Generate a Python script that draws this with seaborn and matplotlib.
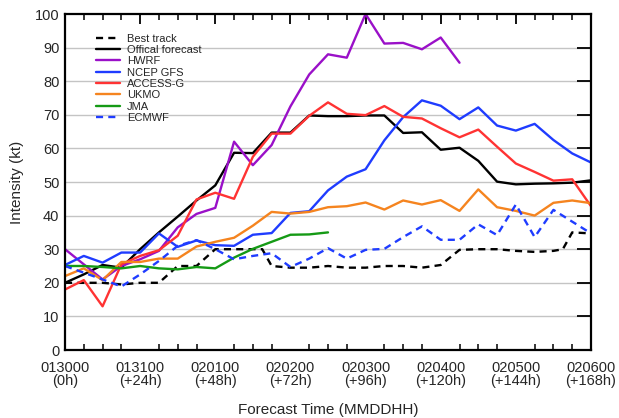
import matplotlib
matplotlib.use("Agg")
import matplotlib.pyplot as plt
from matplotlib.ticker import MultipleLocator
import seaborn as sns
import pandas as pd

# Forecast lead times (hours) for the model runs, every 6 h
hours = list(range(0, 169, 6))

# Best track is sampled on its own times
best_hours = [0, 6, 12, 18, 24, 30, 36, 42, 48, 54, 60, 63, 66, 72, 78, 84, 90,
              96, 102, 108, 114, 120, 126, 132, 138, 144, 150, 156, 159, 162, 168]
best_track = [20, 20, 20, 19.5, 20, 20, 25, 25, 30, 30, 30, 30, 25, 24.5, 24.5,
              25, 24.5, 24.5, 25, 25, 24.5, 25.3, 29.8, 30, 30, 29.5, 29.2, 29.5,
              30, 35, 34.7]

official = [20, 22.5, 25.3, 24.5, 30, 35, 39.7, 44.5, 49, 58.7, 58.6, 64.7, 64.7,
            69.8, 69.6, 69.6, 69.8, 69.8, 64.6, 64.8, 59.6, 60.2, 56.3, 50.1,
            49.3, 49.5, 49.6, 49.8, 50.5]

hwrf = [30, 25.5, 21, 25, 27, 29.5, 36.5, 40.5, 42.3, 62, 55, 61, 72.5, 82, 88,
        87, 100, 91.2, 91.4, 89.5, 93, 85.5]

ncep_gfs = [25.3, 28, 26, 29, 29, 34.7, 30.7, 32.6, 31.2, 31, 34.3, 34.8, 40.8,
            41.3, 47.5, 51.6, 53.8, 62.4, 69.3, 74.3, 72.7, 68.7, 72.2, 66.8,
            65.3, 67.3, 62.5, 58.5, 55.8]

access_g = [18, 20.8, 13, 25.5, 28, 29.7, 34, 44.8, 46.8, 45, 57.5, 64.4, 64.4,
            69.7, 73.7, 70.3, 69.9, 72.6, 69.4, 68.9, 66, 63.3, 65.6, 60.5, 55.5,
            53, 50.4, 50.8, 42.8]

ukmo = [22, 24.3, 20.8, 26.2, 26.2, 27.2, 27.2, 30.8, 32.2, 33.4, 37, 41.1, 40.6,
        41.1, 42.5, 42.8, 43.9, 41.8, 44.5, 43.3, 44.6, 41.4, 47.8, 42.5, 41.4,
        40, 43.8, 44.5, 43.7]

jma = [25, 25, 24.7, 24.3, 25, 24.3, 24, 24.7, 24.3, 27.5, 30.1, 32.2, 34.3,
       34.4, 35]

ecmwf = [25, 23, 21, 18.9, 22.5, 26.5, 31, 32.7, 30, 27, 28, 28.8, 24.7, 27.2,
         30.3, 27.2, 29.8, 30.1, 33.6, 36.8, 32.8, 32.8, 37.4, 34.2, 43.3, 33.6,
         41.7, 38.2, 34.7]

tick_hours = [0, 24, 48, 72, 96, 120, 144, 168]
tick_labels = ["013000\n(0h)", "013100\n(+24h)", "020100\n(+48h)",
               "020200\n(+72h)", "020300\n(+96h)", "020400\n(+120h)",
               "020500\n(+144h)", "020600\n(+168h)"]

dashed = (0, (3.0, 2.2))
series = [
    ("Best track", best_hours, best_track, "black", dashed),
    ("Offical forecast", hours, official, "black", "-"),
    ("HWRF", hours[:len(hwrf)], hwrf, "#9a10c8", "-"),
    ("NCEP GFS", hours, ncep_gfs, "#1f3cff", "-"),
    ("ACCESS-G", hours, access_g, "#ff3333", "-"),
    ("UKMO", hours, ukmo, "#f5841f", "-"),
    ("JMA", hours[:len(jma)], jma, "#159a15", "-"),
    ("ECMWF", hours, ecmwf, "#1f3cff", dashed),
]

sns.set_style("white")
plt.rcParams["font.family"] = ["Liberation Sans", "DejaVu Sans"]

fig = plt.figure(figsize=(6.19, 4.18), dpi=100)
ax = fig.add_axes([65 / 619, 1 - 350 / 418, 526 / 619, 336 / 418])

for name, x, y, color, ls in series:
    df = pd.DataFrame({"hour": x, "kt": y})
    sns.lineplot(data=df, x="hour", y="kt", ax=ax, color=color, linestyle=ls,
                 linewidth=1.7, label=name, legend=False)

ax.set_xlim(0, 168)
ax.set_ylim(0, 100)
ax.set_xticks(tick_hours)
ax.set_xticklabels(tick_labels, fontsize=10.5, linespacing=0.9)
ax.xaxis.set_minor_locator(MultipleLocator(6))
ax.set_yticks(range(0, 101, 10))
ax.tick_params(axis="y", labelsize=10.5, pad=4)

ax.tick_params(which="major", direction="in", length=7, width=1.3,
               top=True, right=True, color="black")
ax.tick_params(axis="x", which="major", pad=8)
ax.tick_params(axis="y", which="major", length=10)
ax.tick_params(which="minor", direction="in", length=4, width=1.1,
               top=True, bottom=True, color="black")

for yv in range(10, 100, 10):
    ax.axhline(yv, color="#c4c4c4", linewidth=1.0, zorder=0)

for side in ax.spines.values():
    side.set_linewidth(1.6)
    side.set_color("black")

ax.set_xlabel("Forecast Time (MMDDHH)", fontsize=11, labelpad=11)
ax.set_ylabel("Intensity (kt)", fontsize=11, labelpad=8)

ax.legend(loc="upper left", bbox_to_anchor=(0.05, 0.955), frameon=False,
          fontsize=8, handlelength=2.2, handletextpad=0.6, labelspacing=0.12,
          borderaxespad=0)

fig.savefig("out.png", dpi=100)
